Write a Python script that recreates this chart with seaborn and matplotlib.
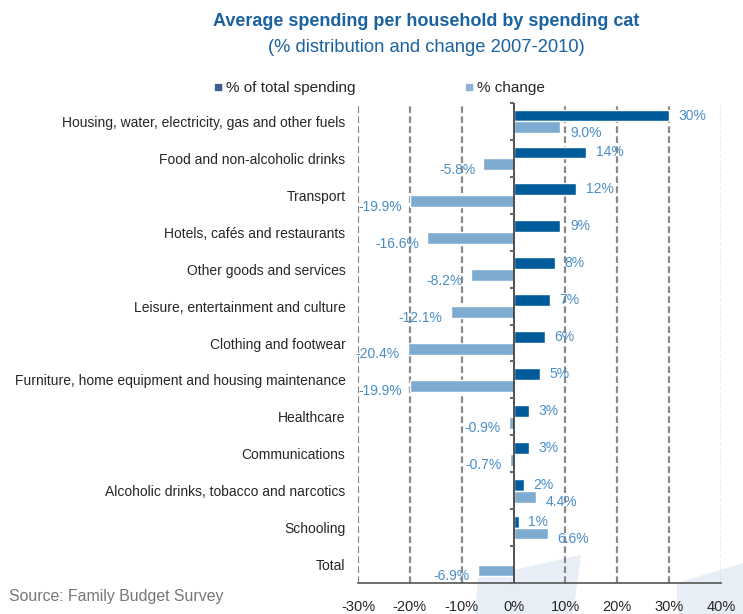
import numpy as np
import pandas as pd
import matplotlib
matplotlib.use("Agg")
import matplotlib.pyplot as plt
from matplotlib.patches import Polygon
import seaborn as sns

categories = [
    "Housing, water, electricity, gas and other fuels",
    "Food and non-alcoholic drinks",
    "Transport",
    "Hotels, cafés and restaurants",
    "Other goods and services",
    "Leisure, entertainment and culture",
    "Clothing and footwear",
    "Furniture, home equipment and housing maintenance",
    "Healthcare",
    "Communications",
    "Alcoholic drinks, tobacco and narcotics",
    "Schooling",
    "Total",
]
share_of_spending = [30, 14, 12, 9, 8, 7, 6, 5, 3, 3, 2, 1, np.nan]
pct_change = [9.0, -5.8, -19.9, -16.6, -8.2, -12.1, -20.4, -19.9, -0.9, -0.7, 4.4, 6.6, -6.9]
series_names = ["% of total spending", "% change"]
x_ticks = [-30, -20, -10, 0, 10, 20, 30, 40]

DARK = "#005b9a"
LIGHT = "#7eabd0"
LABEL = "#4a8ec6"

df = pd.DataFrame({
    "category": categories * 2,
    "series": [series_names[0]] * len(categories) + [series_names[1]] * len(categories),
    "value": share_of_spending + pct_change,
})

sns.set_style("white")
plt.rcParams["font.family"] = ["Liberation Sans", "DejaVu Sans"]

fig = plt.figure(figsize=(7.43, 6.14), dpi=100)
W, H = 743, 614

# pale decorative shapes along the bottom
for pts in [[(475, 614), (478, 578), (581, 555), (573, 614)],
            [(677, 614), (677, 583), (743, 563), (743, 614)]]:
    fig.patches.append(Polygon([(x / W, 1 - y / H) for x, y in pts],
                               closed=True, transform=fig.transFigure,
                               facecolor="#e7eef5", edgecolor="none", zorder=-5))

ax = fig.add_axes([358 / W, 1 - 583 / H, (721 - 358) / W, (583 - 103) / H])
ax.patch.set_alpha(0)

sns.barplot(data=df, x="value", y="category", hue="series", orient="h",
            order=categories, hue_order=series_names,
            palette=[DARK, LIGHT], width=0.64, dodge=True, ax=ax,
            legend=False, saturation=1, zorder=3)

ax.set_xlim(-30, 40)
ax.set_ylim(len(categories) - 0.5, -0.5)
ax.set_xticks(x_ticks)
ax.set_xticklabels([f"{t}%" for t in x_ticks], fontsize=10.5)
ax.tick_params(axis="x", length=0, pad=12)
ax.tick_params(axis="y", length=0, pad=9, labelsize=10)
ax.set_xlabel("")
ax.set_ylabel("")

for t in x_ticks:
    if t == 0:
        continue
    ax.axvline(t, color="#8a8a8a" if t != 40 else "#a8a8a8", lw=1.6 if t != 40 else 1.0,
               ls=(0, (3, 1.5)), zorder=1)
ax.axvline(0, color="#333333", lw=1.2, zorder=4)
bounds = np.arange(len(categories) + 1) - 0.5
ax.plot(np.zeros_like(bounds), bounds, ls="none", marker=matplotlib.markers.TICKLEFT,
        ms=3, mew=1.5, color="#666666", zorder=4, clip_on=False)

for side in ["top", "right", "left"]:
    ax.spines[side].set_visible(False)
ax.spines["bottom"].set_color("#555555")
ax.spines["bottom"].set_linewidth(1.2)

# value labels
for container, series in zip(ax.containers, series_names):
    for bar, v in zip(container, df[df["series"] == series]["value"]):
        if np.isnan(v):
            continue
        yc = bar.get_y() + bar.get_height() / 2
        txt = f"{v:.0f}%" if series == series_names[0] else f"{v:.1f}%"
        dy = 0 if series == series_names[0] else -4
        if v >= 0:
            ax.annotate(txt, (v, yc), xytext=(7, dy), textcoords="offset points",
                        ha="left", va="center", fontsize=10, color=LABEL, zorder=5)
        else:
            ax.annotate(txt, (v, yc), xytext=(-6, dy), textcoords="offset points",
                        ha="right", va="center", fontsize=10, color=LABEL, zorder=5)

# legend
fig.text(213 / W, 1 - 88 / H, "\u25a0", color="#3a5f90", fontsize=11, va="center", ha="left")
fig.text(226 / W, 1 - 88 / H, series_names[0], fontsize=11, va="center", ha="left")
fig.text(464 / W, 1 - 88 / H, "\u25a0", color="#8eb0d6", fontsize=11, va="center", ha="left")
fig.text(477 / W, 1 - 88 / H, series_names[1], fontsize=11, va="center", ha="left")

fig.text(426 / W, 1 - 21 / H, "Average spending per household by spending cat",
         fontsize=13, fontweight="bold", color="#1a62a0", ha="center", va="center")
fig.text(426 / W, 1 - 47 / H, "(% distribution and change 2007-2010)",
         fontsize=13.2, color="#1a62a0", ha="center", va="center")
fig.text(9 / W, 1 - 597 / H, "Source: Family Budget Survey",
         fontsize=11.4, color="#777777", ha="left", va="center")

fig.savefig("out.png", dpi=100)
